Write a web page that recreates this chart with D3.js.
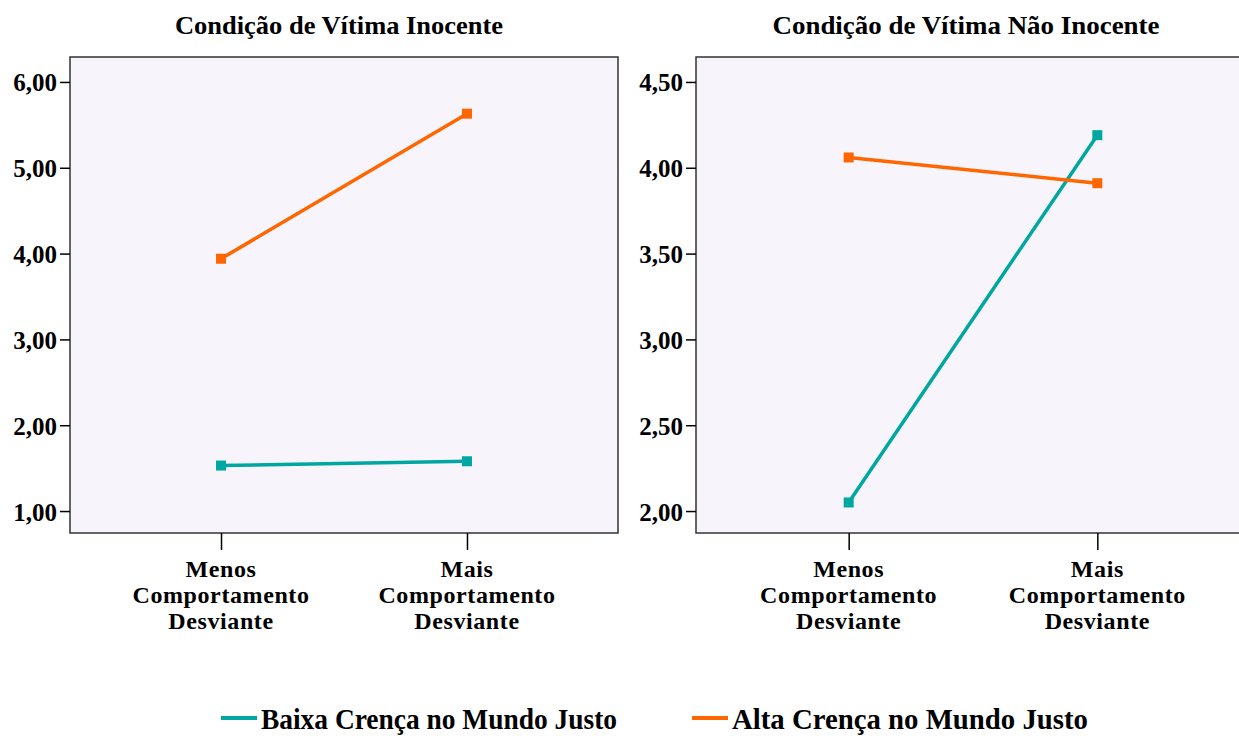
<!DOCTYPE html>
<html>
<head>
<meta charset="utf-8">
<script src="https://cdn.jsdelivr.net/npm/d3@7"></script>
<style>
  body { margin: 0; background: #fff; }
  text { font-family: "Liberation Serif", "Times New Roman", serif; font-weight: bold; fill: #000; }
</style>
</head>
<body>
<script>
const W = 1239, H = 736;

// data
const groups = ["Menos Comportamento Desviante", "Mais Comportamento Desviante"];
const groupLines = [["Menos", "Comportamento", "Desviante"], ["Mais", "Comportamento", "Desviante"]];
const seriesNames = ["Baixa Crença no Mundo Justo", "Alta Crença no Mundo Justo"];
const seriesColors = ["#00A6A0", "#FF6600"];

const inocenteBaixa = [1.53, 1.58];
const inocenteAlta = [3.94, 5.63];
const naoInocenteBaixa = [2.05, 4.19];
const naoInocenteAlta = [4.06, 3.91];

const inocenteTicks = [1, 2, 3, 4, 5, 6];
const naoInocenteTicks = [2, 2.5, 3, 3.5, 4, 4.5];

const svg = d3.select("body").append("svg")
  .attr("width", W)
  .attr("height", H);

const fmt = v => d3.format(".2f")(v).replace(".", ",");

function drawPanel(opts) {
  const { left, right, top, bottom, domain, ticks, title, titleX, titleW, series } = opts;

  const x = d3.scalePoint()
    .domain(groups)
    .range([left, right])
    .padding(0.614);

  const y = d3.scaleLinear()
    .domain(domain)
    .range([bottom, top]);

  const g = svg.append("g");

  // plot background + frame
  g.append("rect")
    .attr("x", left)
    .attr("y", top)
    .attr("width", right - left)
    .attr("height", bottom - top)
    .attr("fill", "#F7F5FB")
    .attr("stroke", "#333")
    .attr("stroke-width", 1.5);

  // y axis
  const yAxis = g.append("g")
    .attr("transform", `translate(${left},0)`)
    .call(d3.axisLeft(y).tickValues(ticks).tickSize(10).tickFormat(fmt));
  yAxis.select(".domain").remove();
  yAxis.selectAll(".tick line").attr("stroke", "#000").attr("stroke-width", 1.5);
  yAxis.selectAll(".tick text")
    .attr("x", -13)
    .attr("dy", "0.36em")
    .style("font-family", "Liberation Serif")
    .style("font-weight", "bold")
    .style("font-size", "25px")
    .attr("fill", "#000");

  // x axis
  const xAxis = g.append("g")
    .attr("transform", `translate(0,${bottom})`)
    .call(d3.axisBottom(x).tickSize(17).tickFormat(""));
  xAxis.select(".domain").remove();
  xAxis.selectAll(".tick line").attr("stroke", "#000").attr("stroke-width", 1.5);

  groups.forEach((gr, i) => {
    groupLines[i].forEach((ln, j) => {
      g.append("text")
        .attr("x", x(gr))
        .attr("y", bottom + 44 + j * 26)
        .attr("text-anchor", "middle")
        .style("font-size", "24px")
        .style("letter-spacing", "0.6px")
        .text(ln);
    });
  });

  // title
  g.append("text")
    .attr("x", titleX)
    .attr("y", 34)
    .attr("text-anchor", "middle")
    .attr("textLength", titleW)
    .attr("lengthAdjust", "spacingAndGlyphs")
    .style("font-size", "25px")
    .text(title);

  // lines and markers
  const line = d3.line()
    .x((d, i) => x(groups[i]))
    .y(d => y(d));

  series.forEach((vals, s) => {
    g.append("path")
      .datum(vals)
      .attr("fill", "none")
      .attr("stroke", seriesColors[s])
      .attr("stroke-width", 3.5)
      .attr("d", line);
    g.selectAll(null)
      .data(vals)
      .join("rect")
        .attr("x", (d, i) => x(groups[i]) - 5)
        .attr("y", d => y(d) - 5)
        .attr("width", 10)
        .attr("height", 10)
        .attr("fill", seriesColors[s]);
  });
}

drawPanel({
  left: 70, right: 618, top: 57, bottom: 533,
  domain: [1 - 22 / 86, 6 + 25 / 86],
  ticks: inocenteTicks,
  title: "Condição de Vítima Inocente",
  titleX: 339, titleW: 328,
  series: [inocenteBaixa, inocenteAlta]
});

drawPanel({
  left: 696, right: 1250, top: 57, bottom: 533,
  domain: [2 - 22 / 172, 4.5 + 25 / 172],
  ticks: naoInocenteTicks,
  title: "Condição de Vítima Não Inocente",
  titleX: 966, titleW: 387,
  series: [naoInocenteBaixa, naoInocenteAlta]
});

// legend
const legendX = [221, 692];
const legendW = [356, 356];
seriesNames.forEach((name, i) => {
  const lg = svg.append("g");
  lg.append("line")
    .attr("x1", legendX[i])
    .attr("x2", legendX[i] + 36)
    .attr("y1", 718)
    .attr("y2", 718)
    .attr("stroke", seriesColors[i])
    .attr("stroke-width", 4);
  lg.append("text")
    .attr("x", legendX[i] + 40)
    .attr("y", 729)
    .attr("textLength", legendW[i])
    .attr("lengthAdjust", "spacingAndGlyphs")
    .style("font-size", "30px")
    .text(name);
});
</script>
</body>
</html>
